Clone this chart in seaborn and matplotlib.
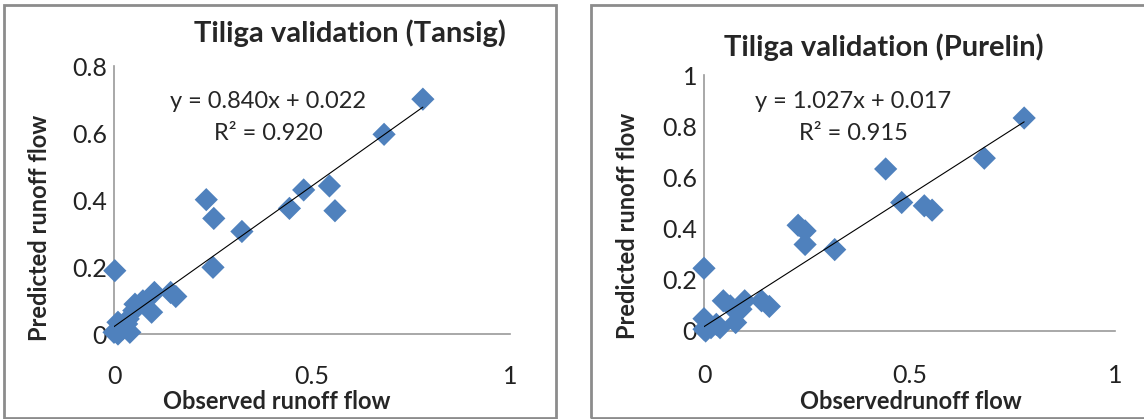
import numpy as np
import pandas as pd
import matplotlib.pyplot as plt
import seaborn as sns
from matplotlib.patches import Rectangle

# Datos (Tansig)
obs_tansig = [0.780, 0.682, 0.544, 0.558, 0.479, 0.443, 0.233, 0.252, 0.323, 0.250,
              0.002, 0.143, 0.156, 0.102, 0.095, 0.073, 0.053, 0.050, 0.036, 0.010,
              0.000, 0.010, 0.040, 0.022, 0.032]
pred_tansig = [0.701, 0.596, 0.442, 0.368, 0.430, 0.375, 0.401, 0.345, 0.306, 0.199,
               0.189, 0.124, 0.112, 0.124, 0.065, 0.099, 0.089, 0.070, 0.045, 0.035,
               0.005, 0.000, 0.005, 0.015, 0.030]

# Datos (Purelin)
obs_purelin = [0.779, 0.682, 0.442, 0.481, 0.536, 0.555, 0.229, 0.246, 0.246, 0.318,
               0.000, 0.140, 0.159, 0.099, 0.047, 0.064, 0.090, 0.077, 0.000, 0.039,
               0.004, 0.000, 0.017, 0.030]
pred_purelin = [0.832, 0.675, 0.633, 0.502, 0.489, 0.472, 0.413, 0.391, 0.338, 0.318,
                0.245, 0.118, 0.096, 0.118, 0.118, 0.098, 0.085, 0.033, 0.048, 0.013,
                0.000, 0.007, 0.013, 0.026]

titles = ["Tiliga validation (Tansig)", "Tiliga validation (Purelin)"]
xlabels = ["Observed runoff flow", "Observedrunoff flow"]
ylabel = "Predicted runoff flow"
slopes = [0.840, 1.027]
intercepts = [0.022, 0.017]
r2 = [0.920, 0.915]
ymax = [0.8, 1.0]
yticks = [[0, 0.2, 0.4, 0.6, 0.8], [0, 0.2, 0.4, 0.6, 0.8, 1]]
ytick_labels = [["0", "0.2", "0.4", "0.6", "0.8"], ["0", "0.2", "0.4", "0.6", "0.8", "1"]]

sns.set_theme(style="white")
plt.rcParams['font.family'] = ['Lato', 'DejaVu Sans']

W, H = 1144, 419
fig = plt.figure(figsize=(W / 100, H / 100), dpi=100)

def px(x0, y0, x1, y1):
    # caja en píxeles -> coordenadas de figura
    return [x0 / W, 1 - y1 / H, (x1 - x0) / W, (y1 - y0) / H]

# bordes de los paneles
for (x0, y0, x1, y1) in [(4, 5, 556, 418), (591, 5, 1152, 418)]:
    fig.patches.append(Rectangle((x0 / W, 1 - y1 / H), (x1 - x0) / W, (y1 - y0) / H,
                                 transform=fig.transFigure, fill=False,
                                 edgecolor="#8c8c8c", linewidth=2))

axes_boxes = [px(114, 66, 510, 334), px(704, 75, 1115, 331)]
datos = [(obs_tansig, pred_tansig), (obs_purelin, pred_purelin)]
title_pos = [(350, 33), (884, 47)]
ylabel_pos = [(40, 228), (627, 226)]
xlabel_pos = [(277, 401), (911, 401)]
eq_pos = [(268, 101), (853, 101)]
xpad = [22, 24]

for i in range(2):
    ax = fig.add_axes(axes_boxes[i])
    df = pd.DataFrame({"obs": datos[i][0], "pred": datos[i][1]})
    sns.scatterplot(data=df, x="obs", y="pred", ax=ax, marker="D", s=140,
                    color="#4F81BD", edgecolor="none", clip_on=False, zorder=3)
    xs = np.array([df["obs"].min(), df["obs"].max()])
    sns.lineplot(x=xs, y=slopes[i] * xs + intercepts[i], ax=ax, color="black",
                 linewidth=0.8, zorder=4)
    ax.set_xlim(0, 1)
    ax.set_ylim(0, ymax[i])
    ax.set_xticks([0, 0.5, 1])
    ax.set_xticklabels(["0", "0.5", "1"])
    ax.set_yticks(yticks[i])
    ax.set_yticklabels(ytick_labels[i])
    ax.tick_params(axis="x", length=0, pad=xpad[i], labelsize=18, colors="#222222")
    ax.tick_params(axis="y", length=0, pad=5, labelsize=18, colors="#222222")
    for s in ["top", "right"]:
        ax.spines[s].set_visible(False)
    for s in ["left", "bottom"]:
        ax.spines[s].set_color("#9a9a9a")
        ax.spines[s].set_linewidth(1.2)
    ax.set_xlabel("")
    ax.set_ylabel("")
    ax.patch.set_alpha(0)

    fig.text(title_pos[i][0] / W, 1 - title_pos[i][1] / H, titles[i],
             ha="center", va="center", fontsize=21, fontweight="bold")
    fig.text(ylabel_pos[i][0] / W, 1 - ylabel_pos[i][1] / H, ylabel,
             ha="center", va="center", rotation=90, fontsize=17, fontweight="bold")
    fig.text(xlabel_pos[i][0] / W, 1 - xlabel_pos[i][1] / H, xlabels[i],
             ha="center", va="center", fontsize=17, fontweight="bold")
    fig.text(eq_pos[i][0] / W, 1 - eq_pos[i][1] / H,
             f"y = {slopes[i]:.3f}x + {intercepts[i]:.3f}",
             ha="center", va="center", fontsize=17)
    fig.text(eq_pos[i][0] / W, 1 - (eq_pos[i][1] + 32) / H,
             f"R² = {r2[i]:.3f}", ha="center", va="center", fontsize=17)

fig.savefig("out.png", dpi=100)
plt.close()
